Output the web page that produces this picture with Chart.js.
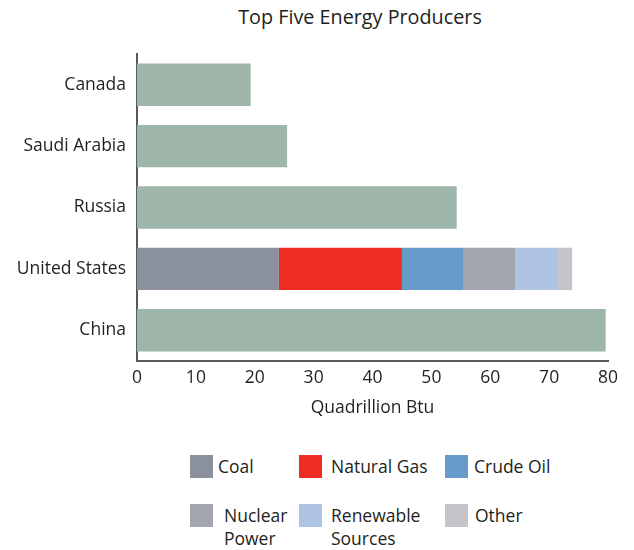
<!DOCTYPE html>
<html>
<head>
<meta charset="utf-8">
<script src="https://cdn.jsdelivr.net/npm/chart.js@4.4.1/dist/chart.umd.min.js"></script>
<style>
  body { margin: 0; background: #fff; font-family: "Open Sans", sans-serif; color: #231f20; }
  #wrap { position: relative; width: 634px; height: 550px; }
  #title { position: absolute; top: 3px; left: 0; width: 720px; text-align: center; font-size: 19.8px; }
  #chartBox { position: absolute; top: 0; left: 0; width: 634px; height: 430px; }
  .key { position: absolute; font-size: 17.5px; line-height: 23px; }
  .key i { position: absolute; left: 0; top: 0; width: 23px; height: 23px; }
</style>
</head>
<body>
<div id="wrap">
  <div id="title">Top Five Energy Producers</div>
  <div id="chartBox"><canvas id="energy"></canvas></div>
  <div id="legend"></div>
</div>
<script>
// countries, top to bottom
const countries = ['Canada', 'Saudi Arabia', 'Russia', 'United States', 'China'];
// total production, quadrillion Btu (US is broken down by source below)
const totals = [19.3, 25.5, 54.3, null, 79.6];
const totalColor = '#9eb5aa';

// US production by source
const sources = ['Coal', 'Natural Gas', 'Crude Oil', 'Nuclear\nPower', 'Renewable\nSources', 'Other'];
const usMix = [24.1, 20.9, 10.5, 8.7, 7.3, 2.4];
const sourceColors = ['#8a909c', '#ee2e24', '#679bc9', '#a3a6b0', '#aec4e2', '#c4c4c9'];

const xTicks = [0, 10, 20, 30, 40, 50, 60, 70, 80];

const usIndex = countries.indexOf('United States');

const datasets = [{
  label: 'Total',
  data: totals,
  backgroundColor: totalColor,
  stack: 's'
}];
sources.forEach((name, i) => {
  datasets.push({
    label: name,
    data: countries.map((c, j) => (j === usIndex ? usMix[i] : null)),
    backgroundColor: sourceColors[i],
    stack: 's'
  });
});

const axisColor = '#58595b';
const textColor = '#231f20';
const labelFont = { family: 'Open Sans', size: 17.5 };

new Chart(document.getElementById('energy'), {
  type: 'bar',
  data: { labels: countries, datasets },
  options: {
    indexAxis: 'y',
    responsive: true,
    maintainAspectRatio: false,
    animation: false,
    layout: { padding: { top: 54, right: 26, left: 0, bottom: 11 } },
    datasets: { bar: { categoryPercentage: 1, barPercentage: 0.69 } },
    plugins: {
      legend: { display: false },
      tooltip: { enabled: false }
    },
    scales: {
      x: {
        stacked: true,
        min: 0,
        max: 80,
        afterBuildTicks: (scale) => { scale.ticks = xTicks.map(v => ({ value: v })); },
        afterFit: (scale) => { scale.height = 58; },
        grid: { display: false, drawTicks: false },
        border: { display: true, color: axisColor, width: 2 },
        ticks: { padding: 7, color: textColor, font: labelFont, maxRotation: 0 },
        title: {
          display: true,
          text: 'Quadrillion Btu',
          color: textColor,
          font: labelFont,
          padding: { top: 4, bottom: 0 }
        }
      },
      y: {
        stacked: true,
        afterFit: (scale) => { scale.width = 137; },
        grid: { display: false, drawTicks: false },
        border: { display: true, color: axisColor, width: 2 },
        ticks: { padding: 11, color: textColor, font: labelFont }
      }
    }
  }
});

// legend: three columns, two rows
const legendCols = [190, 299, 445];
const textOffset = [[28, 32, 29], [34, 32, 30]];
const legendRows = [455, 504];
const legend = document.getElementById('legend');
sources.forEach((name, i) => {
  const col = i % 3, row = Math.floor(i / 3);
  const el = document.createElement('div');
  el.className = 'key';
  el.style.left = legendCols[col] + 'px';
  el.style.top = legendRows[row] + 'px';
  const sw = document.createElement('i');
  sw.style.background = sourceColors[i];
  el.appendChild(sw);
  const txt = document.createElement('span');
  txt.style.display = 'block';
  txt.style.paddingLeft = textOffset[row][col] + 'px';
  txt.innerHTML = name.replace('\n', '<br>');
  el.appendChild(txt);
  legend.appendChild(el);
});
</script>
</body>
</html>
